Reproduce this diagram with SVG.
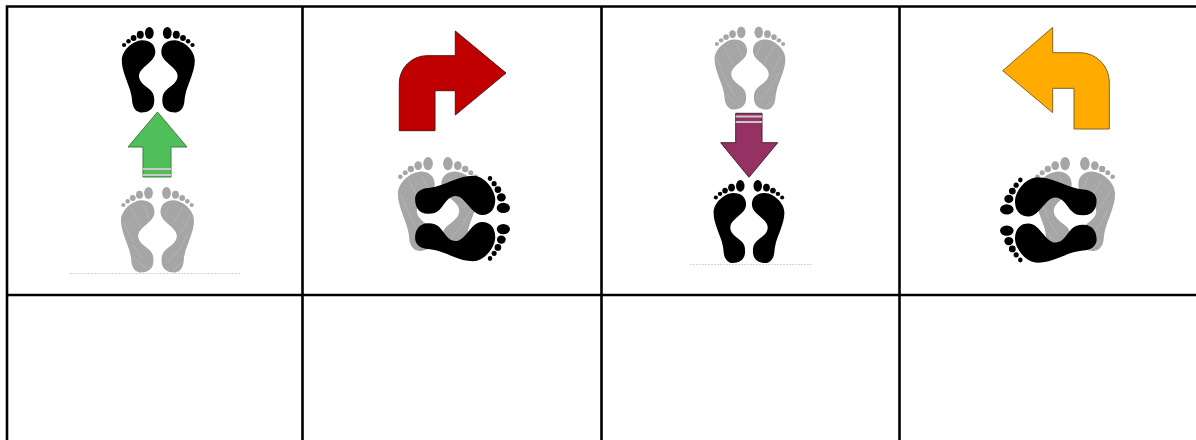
<svg xmlns="http://www.w3.org/2000/svg" xmlns:xlink="http://www.w3.org/1999/xlink" width="1196" height="440" viewBox="0 0 1196 440">
<style>
.grid{stroke:#000;stroke-width:2.600;fill:none}
.base{stroke:#d4d4d4;stroke-width:1;stroke-dasharray:2 1;fill:none}
.stripe{stroke:#c9c9c9;stroke-width:1.800}
.black{fill:#000}
.gray{fill:#a6a6a6}
.scr{stroke:#bcbcbc;stroke-width:.6;fill:none}
</style>
<defs>
<g id="foot">
<ellipse cx="9" cy="6" rx="4.400" ry="6"/>
<ellipse cx="18" cy="7.800" rx="3.500" ry="4"/>
<ellipse cx="24.700" cy="10.900" rx="2.900" ry="3"/>
<ellipse cx="29.800" cy="14.300" rx="2.300" ry="2.300"/>
<ellipse cx="34.200" cy="18" rx="2.100" ry="2"/>
<path d="M3 25C3 17 9 13 16.700 13.300C25 13.800 36.500 23 36.500 33.500C36.500 40 34.500 45 33.300 49C31 56 28 62 27 68C26 72 26.500 75 25.300 78.500C23.500 83.500 20 85.500 16.700 85.500C11 85.500 4 83 4 73.500C4 69 5 66 7.500 63.500C11.500 59.500 19 56 19.300 49.500C19.500 44.500 15 41 11.700 38C8 34.500 3 31 3 25Z"/>
</g>
<g id="pair"><use xlink:href="#foot" href="#foot"/><use xlink:href="#foot" href="#foot" transform="scale(-1 1)"/></g>
<g id="scribble" class="scr">
<path d="M6 30L12 18M15 37L25 20M23 46L33 30M22 62L30 48M10 76L22 62M14 84L24 76M-8 32L-14 18M-17 40L-27 20M-24 56L-34 34M-15 72L-24 58M-10 83L-24 70"/>
</g>
<g id="graypair"><use xlink:href="#pair" href="#pair" class="gray"/><use xlink:href="#scribble" href="#scribble"/></g>
</defs>
<rect width="1196" height="440" fill="#fff"/>
<g id="grid" class="grid">
<path d="M5.700 6.500H1196M5.700 295H1196M7 5.200V440M302.500 6V440M601.500 6V440M899.500 6V440"/>
</g>
<g id="cell1">
<path class="base" d="M70 273.500H240"/>
<use xlink:href="#pair" href="#pair" class="black" transform="translate(158.300 27)"/>
<use xlink:href="#graypair" href="#graypair" transform="translate(157.500 187)"/>
<path d="M157.500 112L187 147H171V177H143V147H128Z" fill="#50bf5a" stroke="#3f7d45" stroke-width="1"/>
<path class="stripe" d="M143 169H171M143 175H171"/>
</g>
<g id="cell2">
<path d="M506 73L455.300 31V55.700H427A27.700 27.700 0 0 0 399.300 83.400V130.700H435V90.700H455.300V115Z" fill="#c00000" stroke="#5c1010" stroke-width="1"/>
<use xlink:href="#graypair" href="#graypair" transform="translate(438 157) scale(1.1)"/>
<use xlink:href="#pair" href="#pair" class="black" transform="translate(510 218.500) rotate(90) scale(1.17 1.11)"/>
</g>
<g id="cell3">
<path class="base" d="M690 264.500H812"/>
<use xlink:href="#graypair" href="#graypair" transform="translate(750 26.500) scale(.97)"/>
<use xlink:href="#pair" href="#pair" class="black" transform="translate(749 180) scale(.97)"/>
<path d="M735.700 113.300H762V142.700H777.700L749 177.300L720.700 142.700H735.700Z" fill="#953163" stroke="#4e2038" stroke-width="1"/>
<path class="stripe" d="M735.700 116.500H762M735.700 122H762"/>
</g>
<g id="cell4">
<path d="M1002.700 70.700L1052.700 27.300V52.700H1080A29.300 29.300 0 0 1 1109.300 82V129H1074V88.300H1052.700V112.700Z" fill="#ffab00" stroke="#7f6520" stroke-width="1"/>
<use xlink:href="#graypair" href="#graypair" transform="translate(1075 157) scale(1.1)"/>
<use xlink:href="#pair" href="#pair" class="black" transform="translate(1000 220) rotate(-90) scale(1.17 1.13)"/>
</g>
</svg>
